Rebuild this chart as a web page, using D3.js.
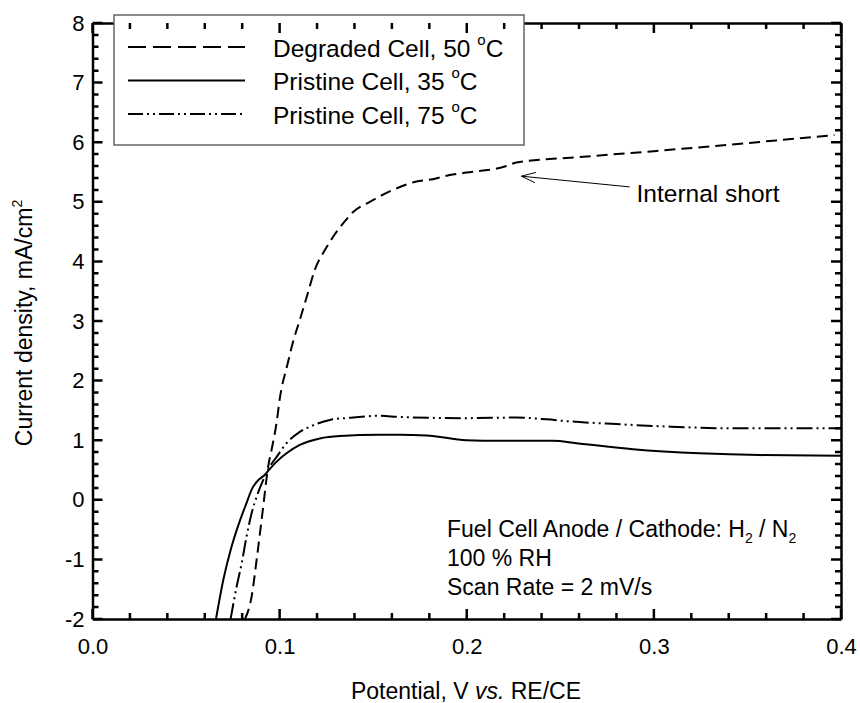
<!DOCTYPE html>
<html>
<head>
<meta charset="utf-8">
<script src="https://cdn.jsdelivr.net/npm/d3@7"></script>
<style>
  body { margin: 0; background: #fff; }
  text { font-family: "Liberation Sans", Arial, sans-serif; fill: #000; }
</style>
</head>
<body>
<svg id="chart"></svg>
<script>
// data
const degX = [0.0815, 0.0850, 0.0877, 0.0895, 0.0912, 0.0927, 0.0939, 0.0957, 0.0984, 0.1001, 0.1044, 0.1070, 0.1108, 0.1151, 0.1188, 0.1242, 0.1285, 0.1348, 0.1393, 0.1482, 0.1606, 0.1731, 0.1819, 0.1909, 0.1998, 0.2212, 0.2265, 0.2600, 0.3000, 0.3300, 0.3654, 0.3965];
const degY = [-2.0, -1.63, -1.01, -0.56, -0.12, 0.28, 0.56, 0.84, 1.30, 1.70, 2.30, 2.63, 3.02, 3.47, 3.86, 4.19, 4.41, 4.67, 4.83, 5.00, 5.20, 5.34, 5.38, 5.45, 5.49, 5.60, 5.66, 5.75, 5.85, 5.93, 6.03, 6.12];

const p35X = [0.0660, 0.0700, 0.0740, 0.0780, 0.0820, 0.0855, 0.0880, 0.0921, 0.0948, 0.0984, 0.1037, 0.1108, 0.1215, 0.1322, 0.1535, 0.1640, 0.1785, 0.1998, 0.2176, 0.2460, 0.2586, 0.2888, 0.3244, 0.3565, 0.4000];
const p35Y = [-2.0, -1.33, -0.82, -0.42, -0.08, 0.20, 0.31, 0.42, 0.52, 0.64, 0.78, 0.92, 1.03, 1.07, 1.09, 1.09, 1.08, 1.00, 0.99, 0.99, 0.95, 0.85, 0.78, 0.75, 0.74];

const p75X = [0.0738, 0.0770, 0.0797, 0.0823, 0.0850, 0.0877, 0.0912, 0.0948, 0.0984, 0.1037, 0.1108, 0.1179, 0.1268, 0.1393, 0.1535, 0.1640, 0.1998, 0.2265, 0.2426, 0.2532, 0.2800, 0.3066, 0.3420, 0.4000];
const p75Y = [-2.0, -1.46, -1.07, -0.62, -0.23, 0.05, 0.33, 0.56, 0.72, 0.95, 1.14, 1.25, 1.34, 1.38, 1.41, 1.39, 1.37, 1.38, 1.35, 1.32, 1.27, 1.23, 1.20, 1.20];

const xTicks = [0.0, 0.1, 0.2, 0.3, 0.4];
const yTicks = [-2, -1, 0, 1, 2, 3, 4, 5, 6, 7, 8];
const seriesNames = ['Degraded Cell, 50 ', 'Pristine Cell, 35 ', 'Pristine Cell, 75 '];
const notes = ['100 % RH', 'Scan Rate = 2 mV/s'];
const shortNote = { text: 'Internal short', tip: [0.2292, 5.43], tail: [0.2870, 5.25] };

// set up svg
const W = 860, H = 703;
const m = { left: 92.5, top: 23, right: 19, bottom: 84 };
const w = W - m.left - m.right;
const h = H - m.top - m.bottom;

const svg = d3.select('#chart').attr('width', W).attr('height', H);
const g = svg.append('g').attr('transform', `translate(${m.left},${m.top})`);

// scales
const x = d3.scaleLinear().domain([0, 0.4]).range([0, w]);
const y = d3.scaleLinear().domain([-2, 8]).range([h, 0]);

svg.append('defs').append('clipPath').attr('id', 'plot')
  .append('rect').attr('width', w).attr('height', h);

// lines
const line = d3.line()
  .x(d => x(d[0]))
  .y(d => y(d[1]))
  .curve(d3.curveMonotoneX);

const series = [
  { xs: degX, ys: degY, dash: '11,6' },
  { xs: p35X, ys: p35Y, dash: null },
  { xs: p75X, ys: p75Y, dash: '16,4,2,4,2,4' }
];

series.forEach(s => {
  g.append('path')
    .datum(s.xs.map((v, i) => [v, s.ys[i]]))
    .attr('clip-path', 'url(#plot)')
    .attr('d', line)
    .attr('fill', 'none')
    .attr('stroke', '#000')
    .attr('stroke-width', 2)
    .attr('stroke-dasharray', s.dash);
});

// axes: frame + labels from d3 axes
const fmtY = d => (d < 0 ? '-' : '') + Math.abs(d);

const axes = [
  { ax: d3.axisBottom(x).tickValues(xTicks).tickFormat(d3.format('.1f')), tr: `translate(0,${h})` },
  { ax: d3.axisTop(x).tickValues(xTicks).tickFormat(() => ''), tr: 'translate(0,0)' },
  { ax: d3.axisLeft(y).tickValues(yTicks).tickFormat(fmtY), tr: 'translate(0,0)' },
  { ax: d3.axisRight(y).tickValues(yTicks).tickFormat(() => ''), tr: `translate(${w},0)` }
];

axes.forEach((a, i) => {
  const sel = g.append('g').attr('transform', a.tr)
    .call(a.ax.tickSize(0).tickPadding(i < 2 ? 19 : 8));
  sel.select('path.domain').attr('stroke', '#000').attr('stroke-width', 2.5);
  sel.selectAll('text')
    .attr('font-size', 22).attr('fill', '#000')
    .attr('font-family', '"Liberation Sans", Arial, sans-serif');
});

// axis titles
const xt = svg.append('text')
  .attr('x', 466).attr('y', 699)
  .attr('text-anchor', 'middle').attr('font-size', 23);
xt.append('tspan').text('Potential, V ');
xt.append('tspan').attr('font-style', 'italic').text('vs.');
xt.append('tspan').text(' RE/CE');

const yt = svg.append('text')
  .attr('transform', 'translate(32,323) rotate(-90)')
  .attr('text-anchor', 'middle').attr('font-size', 23);
yt.append('tspan').text('Current density, mA/cm');
yt.append('tspan').attr('font-size', 14).attr('dy', -10).text('2');

// legend
const lg = svg.append('g');
lg.append('rect')
  .attr('x', 114).attr('y', 15).attr('width', 410).attr('height', 130)
  .attr('fill', '#fff').attr('stroke', '#666').attr('stroke-width', 1.5);

const legendDash = ['18,7', null, '15,4,2,4,2,4'];
seriesNames.forEach((name, i) => {
  const ly = 47 + i * 33.5;
  lg.append('line')
    .attr('x1', 128).attr('x2', 245).attr('y1', ly).attr('y2', ly)
    .attr('stroke', '#000').attr('stroke-width', 2)
    .attr('stroke-dasharray', legendDash[i]);
  const t = lg.append('text').attr('x', 273).attr('y', ly + 9.5).attr('font-size', 24.5);
  t.append('tspan').text(name);
  t.append('tspan').attr('font-size', 15).attr('dy', -12).text('o');
  t.append('tspan').attr('dy', 12).text('C');
});

// annotations
const ann = svg.append('g').attr('transform', `translate(${m.left},${m.top})`);
ann.append('line')
  .attr('x1', x(shortNote.tail[0])).attr('y1', y(shortNote.tail[1]))
  .attr('x2', x(shortNote.tip[0])).attr('y2', y(shortNote.tip[1]))
  .attr('stroke', '#000').attr('stroke-width', 1);
const ang = Math.atan2(y(shortNote.tail[1]) - y(shortNote.tip[1]), x(shortNote.tail[0]) - x(shortNote.tip[0]));
[0.35, -0.35].forEach(da => {
  ann.append('line')
    .attr('x1', x(shortNote.tip[0])).attr('y1', y(shortNote.tip[1]))
    .attr('x2', x(shortNote.tip[0]) + 15 * Math.cos(ang + da))
    .attr('y2', y(shortNote.tip[1]) + 15 * Math.sin(ang + da))
    .attr('stroke', '#000').attr('stroke-width', 1);
});
ann.append('text')
  .attr('x', x(shortNote.tail[0]) + 7).attr('y', y(shortNote.tail[1]) + 15)
  .attr('font-size', 24.5).text(shortNote.text);

const fc = svg.append('text').attr('x', 447).attr('y', 537).attr('font-size', 23);
fc.append('tspan').text('Fuel Cell Anode / Cathode: H');
fc.append('tspan').attr('font-size', 14).attr('dy', 6).text('2');
fc.append('tspan').attr('dy', -6).text(' / N');
fc.append('tspan').attr('font-size', 14).attr('dy', 6).text('2');

notes.forEach((n, i) => {
  svg.append('text').attr('x', 447).attr('y', 566 + i * 29).attr('font-size', 23).text(n);
});

// inward tick marks, minor every 0.02 / 0.2, major on the labelled values,
// built as one path from the scales
const xMinor = d3.range(0, 0.4001, 0.02);
const yMinor = d3.range(-2, 8.001, 0.2);
const isMajor = (v, list) => list.some(t => Math.abs(t - v) < 1e-6);
const tickLen = (v, list) => (isMajor(v, list) ? 10 : 6);

const tp = d3.path();
xMinor.forEach(v => {
  const px = x(v), len = tickLen(v, xTicks);
  tp.moveTo(px, h); tp.lineTo(px, h - len);
  tp.moveTo(px, 0); tp.lineTo(px, len);
});
yMinor.forEach(v => {
  const py = y(v), len = tickLen(v, yTicks);
  tp.moveTo(0, py); tp.lineTo(len, py);
  tp.moveTo(w, py); tp.lineTo(w - len, py);
});

svg.append('path')
  .attr('transform', `translate(${m.left},${m.top})`)
  .attr('d', tp.toString())
  .attr('fill', 'none')
  .attr('stroke', '#000')
  .attr('stroke-width', 2.5);
</script>
</body>
</html>
